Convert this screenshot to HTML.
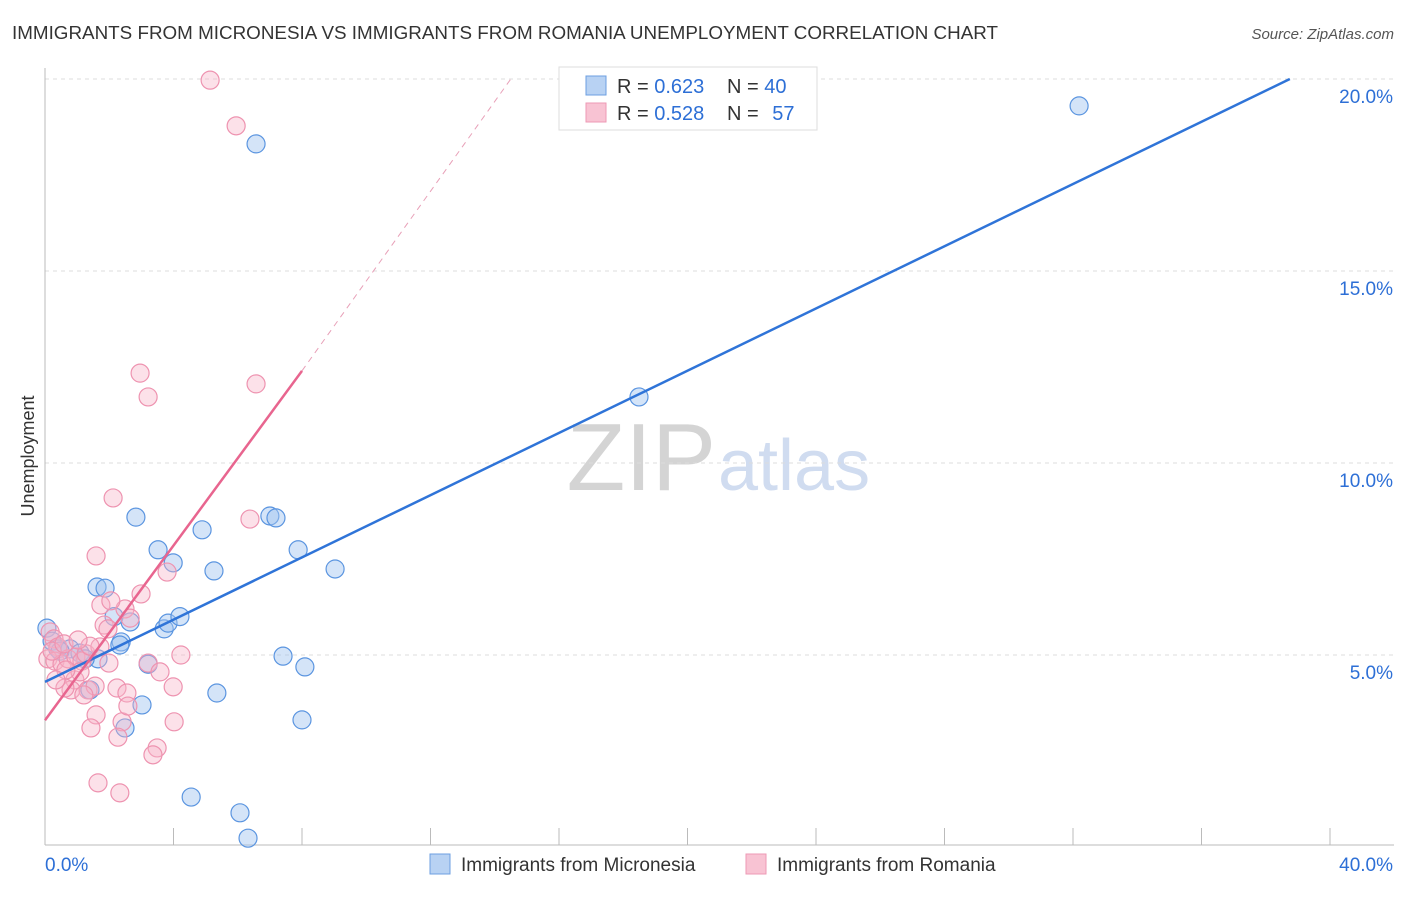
<!DOCTYPE html>
<html><head><meta charset="utf-8"><style>
body{margin:0;background:#fff;font-family:"Liberation Sans",sans-serif;}
svg text{font-family:"Liberation Sans",sans-serif;}
</style></head><body>
<svg id="c" width="1406" height="892">
<text x="12" y="39" font-size="18" fill="#333" textLength="986" lengthAdjust="spacingAndGlyphs">IMMIGRANTS FROM MICRONESIA VS IMMIGRANTS FROM ROMANIA UNEMPLOYMENT CORRELATION CHART</text>
<text x="1394" y="39" font-size="15" fill="#555" text-anchor="end" font-style="italic">Source: ZipAtlas.com</text>
<text x="34" y="456" font-size="18" fill="#333" text-anchor="middle" transform="rotate(-90 34 456)">Unemployment</text>
<text x="716" y="490" font-size="96" fill="#d4d4d4" text-anchor="end" font-family="Liberation Serif">ZIP</text>
<text x="718" y="490" font-size="72" fill="#d0dcf0">atlas</text>
<g id="grid"></g><g id="pts"></g><g id="lines"></g>
<g>
<rect x="559" y="67" width="258" height="63" fill="#fff" stroke="#ddd"/>
<rect x="586" y="76" width="20" height="19" fill="#b8d2f3" stroke="#6c9fe0"/>
<rect x="586" y="103" width="20" height="19" fill="#f8c3d3" stroke="#ee9ab5"/>
<text x="617" y="93" font-size="20" fill="#333">R = <tspan fill="#2d6fd6">0.623</tspan></text>
<text x="727" y="93" font-size="20" fill="#333">N = <tspan fill="#2d6fd6">40</tspan></text>
<text x="617" y="120" font-size="20" fill="#333">R = <tspan fill="#2d6fd6">0.528</tspan></text>
<text x="727" y="120" font-size="20" fill="#333">N = <tspan fill="#2d6fd6" dx="8">57</tspan></text>
</g>
<g>
<rect x="430" y="854" width="20" height="20" fill="#b8d2f3" stroke="#6c9fe0"/>
<text x="461" y="871" font-size="19" fill="#333">Immigrants from Micronesia</text>
<rect x="746" y="854" width="20" height="20" fill="#f8c3d3" stroke="#ee9ab5"/>
<text x="777" y="871" font-size="19" fill="#333">Immigrants from Romania</text>
</g>
</svg>
<script>
const yTicks=[5,10,15,20];
const xTickLabels=["0.0%","40.0%"];
const blueX=[0.06,0.22,0.4,0.78,1.09,1.62,1.87,1.65,2.15,2.37,2.65,2.83,3.21,3.52,3.71,3.83,3.99,4.2,4.89,5.26,5.35,4.55,6.07,6.32,2.49,3.02,1.4,6.57,7.0,7.19,7.88,7.41,8.09,8.0,9.03,18.49,32.19,0.47,1.25,2.33];
const blueY=[5.7,5.36,5.16,5.16,5.05,6.77,6.74,4.9,6.0,5.34,5.86,8.59,4.76,7.74,5.68,5.83,7.4,6.0,8.26,7.19,4.01,1.3,0.89,0.23,3.1,3.7,4.09,18.31,8.62,8.57,7.74,4.97,4.69,3.31,7.24,11.72,19.3,5.1,4.9,5.26];
const pinkX=[5.14,5.95,2.96,3.21,6.57,2.12,1.59,6.38,3.8,2.99,1.74,2.49,2.05,2.65,1.84,1.96,0.16,0.28,0.4,0.09,0.31,0.53,0.72,0.96,1.15,1.28,0.93,1.09,0.81,1.34,1.56,2.24,2.55,1.99,3.21,3.58,4.23,3.99,1.59,2.4,2.58,4.02,1.43,2.27,3.49,3.36,1.65,2.33,0.62,0.22,0.59,1.71,1.4,1.03,0.65,0.34,1.21];
const pinkY=[19.97,18.78,12.34,11.72,12.06,9.09,7.58,8.54,7.16,6.59,6.3,6.2,6.41,5.96,5.78,5.68,5.6,5.42,5.21,4.9,4.84,4.77,4.9,4.95,4.84,5.03,4.35,4.56,4.09,4.09,4.19,4.14,4.01,4.79,4.79,4.56,5.0,4.17,3.44,3.26,3.67,3.26,3.1,2.86,2.58,2.4,1.67,1.41,4.14,5.1,5.29,5.21,5.23,5.39,4.61,4.35,3.96];
const blueLine=[[0,4.3],[38.75,20]];
const pinkLine=[[0,3.3],[8.0,12.4]];
const pinkDash=[[8.0,12.4],[14.5,20]];
const sx=v=>45+v*32.125, sy=v=>847-v*38.4;
const NS="http://www.w3.org/2000/svg";
function mk(t,a,p){const e=document.createElementNS(NS,t);for(const k in a)e.setAttribute(k,a[k]);document.getElementById(p).appendChild(e);return e;}
yTicks.forEach(t=>{
 const l=mk('line',{x1:45,x2:1394,y1:sy(t),y2:sy(t),stroke:'#ddd','stroke-dasharray':'4 4'},'grid');
 
 
 const tx=mk('text',{x:1393,y:sy(t)+24,'font-size':19,fill:'#2d6fd6','text-anchor':'end'},'grid');
 tx.textContent=t.toFixed(1)+'%';
 
 
});
mk('line',{x1:45,x2:45,y1:68,y2:845,stroke:'#bbb'},'grid');
mk('line',{x1:45,x2:1394,y1:845,y2:845,stroke:'#bbb'},'grid');
for(let i=1;i<=10;i++){mk('line',{x1:sx(i*4),x2:sx(i*4),y1:828,y2:845,stroke:'#bbb'},'grid');}
xTickLabels.forEach((s,i)=>{const tx=mk('text',{x:i?1393:45,y:871,'font-size':19,fill:'#2d6fd6','text-anchor':i?'end':'start'},'grid');tx.textContent=s;
 
 });
blueX.forEach((x,i)=>{const c=mk('circle',{cx:sx(x),cy:sy(blueY[i]),r:9,fill:'rgba(160,196,240,0.45)',stroke:'#5b95e0','stroke-width':1.2},'pts');
 
 });
pinkX.forEach((x,i)=>{const c=mk('circle',{cx:sx(x),cy:sy(pinkY[i]),r:9,fill:'rgba(248,180,200,0.4)',stroke:'#ee93b0','stroke-width':1.2},'pts');
 
 });
function ln(d,st,name){const l=mk('line',Object.assign({x1:sx(d[0][0]),y1:sy(d[0][1]),x2:sx(d[1][0]),y2:sy(d[1][1])},st),'lines');
 
 }
ln(blueLine,{stroke:'#2f74d8','stroke-width':2.5},'micronesia-trendline');
ln(pinkLine,{stroke:'#e8658f','stroke-width':2.5},'romania-trendline');
ln(pinkDash,{stroke:'#e8a0b8','stroke-width':1,'stroke-dasharray':'6 5'},'romania-trendline-extension');
</script>
</body></html>
